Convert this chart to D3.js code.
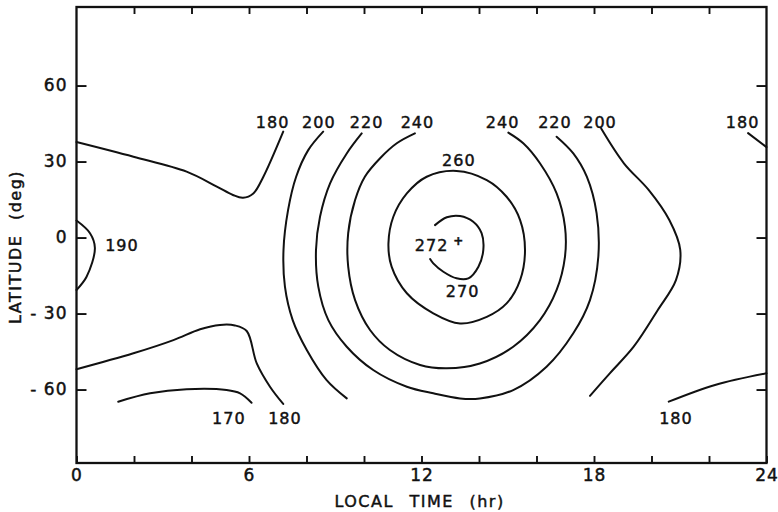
<!DOCTYPE html>
<html>
<head>
<meta charset="utf-8">
<script src="https://cdn.jsdelivr.net/npm/d3@7"></script>
<style>
  html, body { margin: 0; padding: 0; background: #fff; }
  svg text { font-family: "DejaVu Sans", "Liberation Sans", sans-serif; fill: #111; stroke: #111; stroke-width: 0.45; }
</style>
</head>
<body>
<svg id="chart" width="778" height="512"></svg>
<script>
// Axis ticks
const hourLabels = [0, 6, 12, 18, 24];
const hourTicks = d3.range(0, 25, 2);
const latTicks = [-60, -30, 0, 30, 60];

// Isotherms, temperature in K; vertices are [local time (hr), latitude (deg)]
const iso170 = [[1.45, -64.8], [2.56, -61.5], [3.83, -59.9], [5.22, -60.2], [5.69, -61.5], [6.09, -65.2]];
const iso180North = [[0, 37.7], [1.98, 31.9], [3.83, 26.0], [4.88, 20.1], [5.44, 16.8], [5.79, 15.7], [6.15, 17.4], [6.50, 24.0], [7.19, 41.8]];
const iso180South = [[0, -52.0], [1.98, -45.7], [3.37, -40.5], [4.30, -36.2], [4.99, -34.5], [5.51, -34.7], [5.92, -36.9], [6.27, -49.7], [6.73, -58.9], [7.19, -65.7]];
const iso180LateNorth = [[23.36, 41.2], [24, 35.7]];
const iso180LateSouth = [[20.60, -64.8], [22.21, -58.2], [24, -53.6]];
const iso190 = [[0, 6.7], [0.47, 1.7], [0.64, -4.1], [0.35, -15.5], [0, -20.7]];
const iso200Morning = [[8.58, 41.8], [8.06, 34.5], [7.64, 24.0], [7.36, 10.9], [7.20, -4.9], [7.25, -19.4], [7.52, -32.6], [8.01, -44.4], [8.70, -56.3], [9.40, -63.5]];
const iso200Evening = [[18.25, 43.0], [19.04, 29.3], [19.90, 18.8], [20.62, 6.9], [21.00, -4.9], [20.85, -16.8], [20.22, -28.6], [19.38, -43.1], [18.55, -53.6], [17.86, -62.5]];
const iso220 = [[9.92, 41.1], [9.40, 33.2], [8.82, 21.4], [8.47, 8.2], [8.33, -4.9], [8.41, -19.4], [8.76, -32.6], [9.40, -43.1], [10.32, -52.3], [11.49, -58.9], [12.41, -61.5], [13.34, -63.5], [14.03, -63.5], [15.19, -60.2], [16.35, -51.0], [17.28, -37.8], [17.86, -24.7], [18.15, -7.6], [18.09, 9.6], [17.75, 24.0], [17.28, 33.2], [16.70, 39.8]];
const iso240 = [[11.77, 41.1], [11.14, 37.2], [10.56, 31.3], [10.03, 24.0], [9.69, 14.8], [9.45, 1.7], [9.45, -11.5], [9.69, -24.7], [10.21, -36.5], [10.90, -44.4], [11.95, -50.3], [12.88, -51.6], [14.03, -49.7], [15.19, -43.1], [16.12, -32.6], [16.70, -20.7], [16.99, -7.6], [16.99, 4.3], [16.70, 17.4], [16.12, 29.3], [15.54, 37.2], [15.02, 41.4]];
const iso260 = [[13.22, 26.3], [14.27, 22.7], [14.96, 16.1], [15.43, 6.9], [15.60, -4.9], [15.43, -16.8], [14.96, -26.0], [14.27, -31.3], [13.34, -33.9], [12.41, -29.9], [11.49, -22.0], [10.96, -11.5], [10.85, -2.3], [11.02, 8.2], [11.49, 17.4], [12.18, 24.0]];
const iso270 = [[12.47, 4.9], [12.88, 8.0], [13.34, 8.5], [13.80, 6.2], [14.09, 1.7], [14.15, -4.9], [13.98, -11.5], [13.63, -16.1], [13.22, -16.1], [12.76, -13.5], [12.41, -10.2], [12.30, -8.5]];

// Isotherm labels: [text, local time (hr), latitude (deg)]
const isoLabels = [
  ["180", 6.82, 45.4], ["200", 8.43, 45.4], ["220", 10.09, 45.4], ["240", 11.86, 45.4],
  ["240", 14.82, 45.4], ["220", 16.64, 45.4], ["200", 18.21, 45.4], ["180", 23.17, 45.4],
  ["260", 13.30, 30.6], ["272", 12.35, -3.0], ["270", 13.43, -21.4], ["190", 1.58, -3.0],
  ["170", 5.30, -71.3], ["180", 7.25, -71.3], ["180", 20.85, -71.3]
];
// Position of the temperature maximum
const peak = [13.28, -1.4];

const openLines = [iso170, iso180North, iso180South, iso180LateNorth, iso180LateSouth, iso190,
                   iso200Morning, iso200Evening, iso220, iso240, iso270];
const closedLines = [iso260];

const svg = d3.select("#chart");
const x = d3.scaleLinear().domain([0, 24]).range([76.5, 766.5]);
const y = d3.scaleLinear().domain([-89, 91]).range([463, 7]);

const ink = "#111";

// Contours
const lineOpen = d3.line().x(d => x(d[0])).y(d => y(d[1])).curve(d3.curveCatmullRom.alpha(0.5));
const lineClosed = d3.line().x(d => x(d[0])).y(d => y(d[1])).curve(d3.curveCatmullRomClosed.alpha(0.5));

const g = svg.append("g");
g.selectAll("path.open").data(openLines).join("path")
  .attr("class", "open")
  .attr("d", lineOpen)
  .attr("fill", "none").attr("stroke", ink).attr("stroke-width", 2)
  .attr("stroke-linecap", "round").attr("stroke-linejoin", "round");
g.selectAll("path.closed").data(closedLines).join("path")
  .attr("class", "closed")
  .attr("d", lineClosed)
  .attr("fill", "none").attr("stroke", ink).attr("stroke-width", 2);

// Contour labels
g.selectAll("text.iso").data(isoLabels).join("text")
  .attr("class", "iso")
  .attr("x", d => x(d[1]))
  .attr("y", d => y(d[2]))
  .attr("text-anchor", "middle")
  .attr("dominant-baseline", "central")
  .attr("font-size", 16)
  .attr("letter-spacing", 1)
  .text(d => d[0]);

g.append("text")
  .attr("x", x(peak[0])).attr("y", y(peak[1]))
  .attr("text-anchor", "middle").attr("dominant-baseline", "central")
  .attr("font-size", 12).attr("font-weight", "bold")
  .text("+");

// Axes with inward ticks
const axisStyle = sel => {
  sel.select(".domain").remove();
  sel.selectAll(".tick line").attr("stroke", ink).attr("stroke-width", 1.9);
  sel.selectAll(".tick text").attr("fill", ink).attr("font-size", 17)
    .attr("letter-spacing", 1)
    .attr("font-family", "DejaVu Sans, sans-serif");
};

svg.append("g").attr("transform", `translate(0,${y.range()[0]})`)
  .call(d3.axisBottom(x).tickValues(hourTicks).tickSizeInner(-7).tickSizeOuter(0).tickPadding(6)
    .tickFormat(d => hourLabels.includes(d) ? d : ""))
  .call(axisStyle);

svg.append("g").attr("transform", `translate(0,${y.range()[1]})`)
  .call(d3.axisTop(x).tickValues(hourTicks.filter(d => d > 0 && d < 24)).tickSizeInner(-7).tickSizeOuter(0)
    .tickFormat(""))
  .call(axisStyle);

svg.append("g").attr("transform", `translate(${x.range()[0]},0)`)
  .call(d3.axisLeft(y).tickValues(latTicks).tickSizeInner(-10).tickSizeOuter(0).tickPadding(9)
    .tickFormat(d => d < 0 ? "- " + Math.abs(d) : String(d)))
  .call(axisStyle);

svg.append("g").attr("transform", `translate(${x.range()[1]},0)`)
  .call(d3.axisRight(y).tickValues(latTicks).tickSizeInner(-10).tickSizeOuter(0).tickFormat(""))
  .call(axisStyle);

// Frame
svg.append("rect")
  .attr("x", x.range()[0]).attr("y", y.range()[1])
  .attr("width", x.range()[1] - x.range()[0])
  .attr("height", y.range()[0] - y.range()[1])
  .attr("fill", "none").attr("stroke", ink).attr("stroke-width", 2.3);

// Axis titles
svg.append("text")
  .attr("x", (x.range()[0] + x.range()[1]) / 2 - 2).attr("y", 501.5)
  .attr("text-anchor", "middle").attr("dominant-baseline", "central")
  .attr("font-size", 16).attr("letter-spacing", 1.5).attr("word-spacing", 9)
  .text("LOCAL TIME (hr)");

svg.append("text")
  .attr("transform", "translate(15,247) rotate(-90)")
  .attr("text-anchor", "middle").attr("dominant-baseline", "central")
  .attr("font-size", 16).attr("letter-spacing", 1.5).attr("word-spacing", 8)
  .text("LATITUDE (deg)");
</script>
</body>
</html>
